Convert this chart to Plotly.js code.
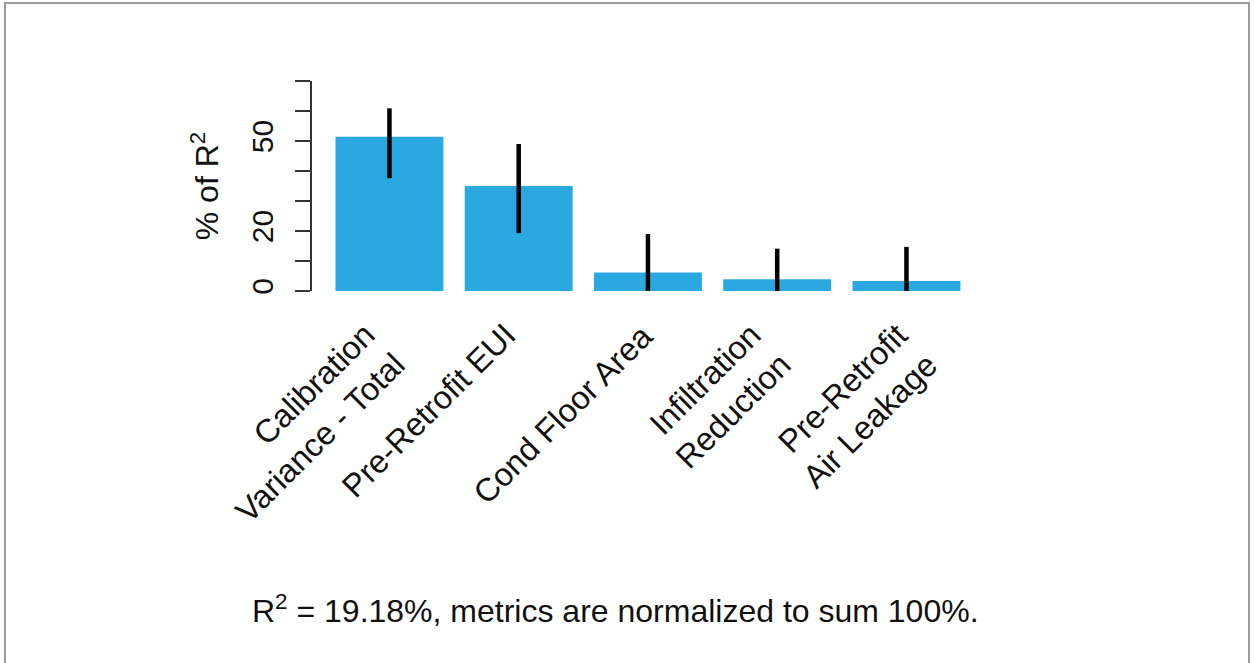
<!DOCTYPE html>
<html>
<head>
<meta charset="utf-8">
<script src="https://cdn.plot.ly/plotly-3.0.1.min.js"></script>
<style>
  html, body { margin: 0; padding: 0; background: #ffffff; }
  #chart { width: 1254px; height: 663px; }
</style>
</head>
<body>
<div id="chart"></div>
<script>
// ---- data ----
const categories = [
  "Calibration<br>Variance - Total",
  "Pre-Retrofit EUI",
  "Cond Floor Area",
  "Infiltration<br>Reduction",
  "Pre-Retrofit<br>Air Leakage"
];
const shareOfR2 = [51.4, 35.0, 6.2, 3.9, 3.3];   // bar heights (% of R^2)
const upperCI   = [60.9, 49.0, 19.0, 14.1, 14.7]; // error bar upper ends
const lowerCI   = [37.6, 19.3, 0.0, 0.0, 0.0];    // error bar lower ends
const yLabelVals  = [0, 20, 50];                  // labelled ticks
const yLabelTexts = ["0", "20", "50"];
const yMinorVals  = [10, 30, 40, 60, 70];         // unlabelled ticks
const footnote = "R<sup>2</sup> = 19.18%, metrics are normalized to sum 100%.";

// ---- layout geometry / styling ----
const W = 1254, H = 663;
const M = { l: 311, r: 270, t: 73, b: 364 };
const PW = W - M.l - M.r, PH = H - M.t - M.b;
const px2x = px => (px - M.l) / PW;
const py2y = py => (H - M.b - py) / PH;
const labelShift = [25, 6, 15, 23, 40];

const FONT = '"Liberation Sans", Arial, Helvetica, sans-serif';
const idx = categories.map((_, i) => i);

const trace = {
  type: 'bar',
  x: idx,
  y: shareOfR2,
  width: 0.835,
  marker: { color: '#2AA9E0', line: { width: 0 } },
  error_y: {
    type: 'data',
    symmetric: false,
    array: upperCI.map((u, i) => u - shareOfR2[i]),
    arrayminus: lowerCI.map((l, i) => shareOfR2[i] - l),
    color: '#000000',
    thickness: 4.5,
    width: 0
  },
  hoverinfo: 'skip'
};

const labelAnnotations = categories.map((c, i) => ({
  xref: 'x', yref: 'paper',
  x: i, y: py2y(314),
  xshift: labelShift[i],
  text: c,
  textangle: -45,
  xanchor: 'right', yanchor: 'top',
  align: 'right',
  showarrow: false,
  font: { family: FONT, size: 32.5, color: '#111111' }
}));

const allTicks = yLabelVals.concat(yMinorVals);

const layout = {
  width: W, height: H,
  margin: M,
  paper_bgcolor: '#ffffff',
  plot_bgcolor: '#ffffff',
  showlegend: false,
  font: { family: FONT, size: 30, color: '#111111' },
  xaxis: {
    range: [-0.607, 4.6],
    showticklabels: false, ticks: '', showline: false,
    showgrid: false, zeroline: false, fixedrange: true
  },
  yaxis: {
    range: [-2.67, 72.67],
    tickmode: 'array',
    tickvals: yLabelVals,
    ticktext: yLabelTexts,
    tickangle: -90,
    ticks: 'outside', ticklen: 15, tickwidth: 2, tickcolor: '#333333',
    ticklabelstandoff: 10,
    tickfont: { family: FONT, size: 30, color: '#111111' },
    minor: {
      tickmode: 'array', tickvals: yMinorVals,
      ticks: 'outside', ticklen: 15, tickwidth: 2, tickcolor: '#333333', showgrid: false
    },
    showline: false, showgrid: false, zeroline: false,
    title: { text: '% of R<sup>2</sup>', font: { family: FONT, size: 32, color: '#111111' }, standoff: 17 },
    fixedrange: true
  },
  shapes: [
    { type: 'line', xref: 'paper', yref: 'y', x0: 0, x1: 0,
      y0: Math.min(...allTicks), y1: Math.max(...allTicks),
      line: { color: '#333333', width: 2 } },
    { type: 'rect', xref: 'paper', yref: 'paper',
      x0: px2x(5), x1: px2x(1249), y0: py2y(3), y1: py2y(675),
      line: { color: '#9a9a9a', width: 2 }, fillcolor: 'rgba(0,0,0,0)', layer: 'below' }
  ],
  annotations: labelAnnotations.concat([{
    xref: 'paper', yref: 'paper',
    x: px2x(250), y: py2y(609),
    xanchor: 'left', yanchor: 'middle',
    text: footnote,
    showarrow: false,
    font: { family: FONT, size: 32, color: '#111111' }
  }])
};

Plotly.newPlot('chart', [trace], layout, { displayModeBar: false, staticPlot: true });
</script>
</body>
</html>
